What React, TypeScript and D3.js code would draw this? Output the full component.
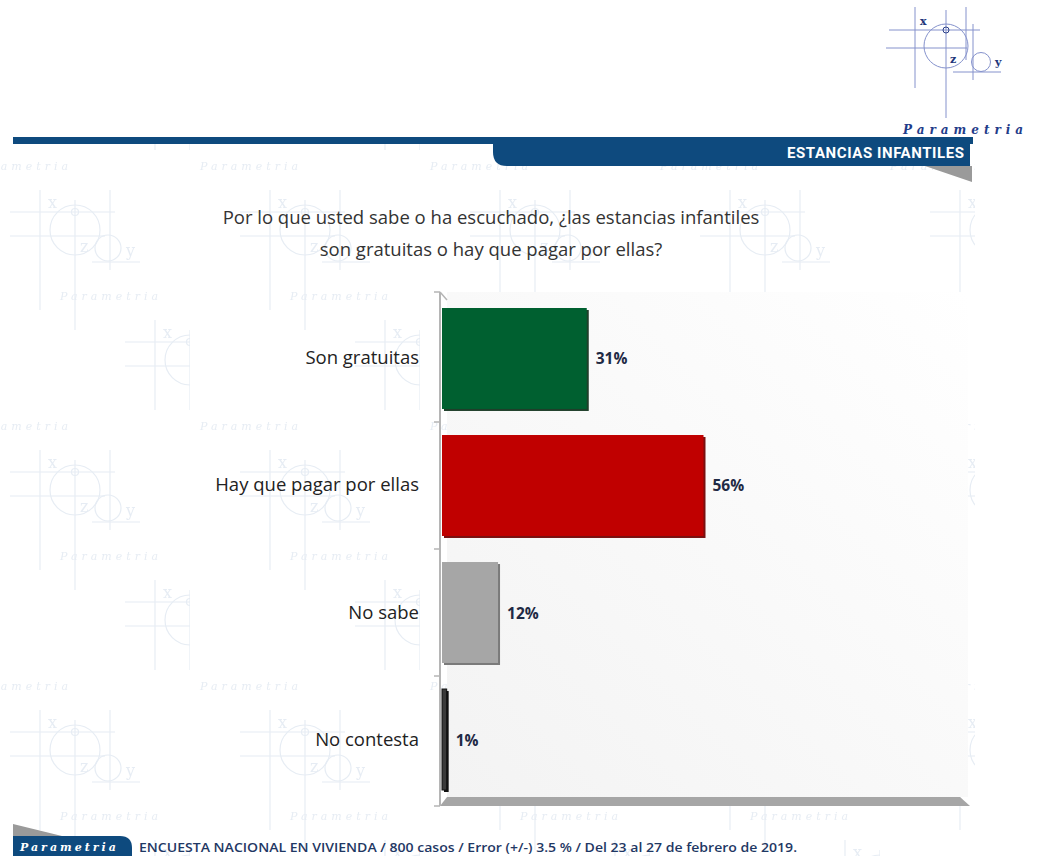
import React, { useRef, useEffect } from 'react';
import * as d3 from 'd3';

const categories = ['Son gratuitas', 'Hay que pagar por ellas', 'No sabe', 'No contesta'];
const values = [31, 56, 12, 1];
const barColors = ['#006030', '#c00000', '#a6a6a6', '#3a3a3a'];
const shadowColors = ['#1f3f2a', '#7a1010', '#7a7a7a', '#111111'];
const titleLines = [
  'Por lo que usted sabe o ha escuchado, ¿las estancias infantiles',
  'son gratuitas o hay que pagar por ellas?',
];
const headerText = 'ESTANCIAS INFANTILES';
const footerText =
  'ENCUESTA NACIONAL EN VIVIENDA / 800 casos / Error (+/-) 3.5 % / Del 23 al 27 de febrero de 2019.';

const App: React.FC = () => {
  const svgRef = useRef<SVGSVGElement | null>(null);

  useEffect(() => {
    if (!svgRef.current) return;
    const width = 1037;
    const height = 856;
    const svg = d3.select(svgRef.current).attr('width', width).attr('height', height);
    svg.selectAll('*').remove();

    const defs = svg.append('defs');

    // watermark tile
    const wm = '#d6e0ec';
    const pat = defs
      .append('pattern')
      .attr('id', 'wm')
      .attr('patternUnits', 'userSpaceOnUse')
      .attr('width', 230)
      .attr('height', 260)
      .attr('x', -40)
      .attr('y', 150);
    const motif = (g: d3.Selection<SVGGElement, unknown, null, undefined>) => {
      g.append('line').attr('x1', 0).attr('x2', 0).attr('y1', -40).attr('y2', 80);
      g.append('line').attr('x1', 35).attr('x2', 35).attr('y1', -30).attr('y2', 100);
      g.append('line').attr('x1', 70).attr('x2', 70).attr('y1', -40).attr('y2', 40);
      g.append('line').attr('x1', -30).attr('x2', 75).attr('y1', -18).attr('y2', -18);
      g.append('line').attr('x1', -30).attr('x2', 65).attr('y1', 6).attr('y2', 6);
      g.append('line').attr('x1', 52).attr('x2', 100).attr('y1', 32).attr('y2', 32);
      g.append('circle').attr('cx', 35).attr('cy', 0).attr('r', 25);
      g.append('circle').attr('cx', 35).attr('cy', -18).attr('r', 3.5);
      g.append('circle').attr('cx', 68).attr('cy', 18).attr('r', 13);
      g.append('text').attr('x', 8).attr('y', -22).text('x');
      g.append('text').attr('x', 40).attr('y', 22).text('z');
      g.append('text').attr('x', 86).attr('y', 26).text('y');
    };
    const styleMotif = (g: d3.Selection<SVGGElement, unknown, null, undefined>) => {
      g.selectAll('line').attr('stroke', wm).attr('stroke-width', 1.2);
      g.selectAll('circle').attr('fill', 'none').attr('stroke', wm).attr('stroke-width', 1.2);
      g.selectAll('text')
        .attr('fill', wm)
        .attr('font-family', 'DejaVu Serif, serif')
        .attr('font-size', 16);
    };
    const m1 = pat.append('g').attr('transform', 'translate(80,80)');
    motif(m1);
    styleMotif(m1);
    const m2 = pat.append('g').attr('transform', 'translate(195,210)');
    motif(m2);
    styleMotif(m2);
    [
      [100, 150],
      [10, 20],
    ].forEach(([tx, ty]) => {
      pat
        .append('text')
        .attr('x', tx)
        .attr('y', ty)
        .attr('fill', wm)
        .attr('font-family', 'DejaVu Serif, serif')
        .attr('font-style', 'italic')
        .attr('font-size', 11)
        .attr('letter-spacing', 4)
        .text('Parametria');
    });

    const wallGrad = defs
      .append('linearGradient')
      .attr('id', 'wall')
      .attr('x1', '0%')
      .attr('y1', '100%')
      .attr('x2', '100%')
      .attr('y2', '0%');
    wallGrad.append('stop').attr('offset', '0%').attr('stop-color', '#f3f3f3');
    wallGrad.append('stop').attr('offset', '100%').attr('stop-color', '#ffffff');

    svg.append('rect').attr('width', width).attr('height', height).attr('fill', '#ffffff');
    svg
      .append('rect')
      .attr('x', 0)
      .attr('y', 140)
      .attr('width', 975)
      .attr('height', height - 140)
      .attr('fill', 'url(#wm)')
      .attr('opacity', 0.6);

    // logo top right
    const logo = svg.append('g').attr('stroke', '#8592cc').attr('stroke-width', 1).attr('fill', 'none');
    logo.append('line').attr('x1', 915).attr('x2', 915).attr('y1', 7).attr('y2', 88);
    logo.append('line').attr('x1', 946).attr('x2', 946).attr('y1', 10).attr('y2', 118);
    logo.append('line').attr('x1', 966).attr('x2', 966).attr('y1', 7).attr('y2', 60);
    logo.append('line').attr('x1', 973).attr('x2', 973).attr('y1', 24).attr('y2', 80);
    logo.append('line').attr('x1', 889).attr('x2', 980).attr('y1', 30).attr('y2', 30);
    logo.append('line').attr('x1', 886).attr('x2', 967).attr('y1', 48).attr('y2', 48);
    logo.append('line').attr('x1', 953).attr('x2', 1001).attr('y1', 72).attr('y2', 72);
    logo.append('circle').attr('cx', 946).attr('cy', 46).attr('r', 22);
    logo.append('circle').attr('cx', 981).attr('cy', 62).attr('r', 9.5);
    logo.append('circle').attr('cx', 946).attr('cy', 30).attr('r', 3).attr('stroke', '#2a3f8a');
    const logoTxt = svg
      .append('g')
      .attr('fill', '#22357a')
      .attr('font-family', 'DejaVu Serif, serif')
      .attr('font-weight', 'bold')
      .attr('font-size', 11);
    logoTxt.append('text').attr('x', 920).attr('y', 25).text('x');
    logoTxt.append('text').attr('x', 950).attr('y', 63).text('z');
    logoTxt.append('text').attr('x', 995).attr('y', 66).text('y');
    svg
      .append('text')
      .attr('x', 903)
      .attr('y', 134)
      .attr('fill', '#1f3c8a')
      .attr('font-family', 'DejaVu Serif, serif')
      .attr('font-style', 'italic')
      .attr('font-weight', 'bold')
      .attr('font-size', 12)
      .attr('letter-spacing', 5)
      .text('Parametria');

    // header bar
    const navy = '#0e4a7e';
    svg.append('rect').attr('x', 13).attr('y', 137).attr('width', 960).attr('height', 7).attr('fill', navy);
    svg
      .append('path')
      .attr('d', 'M493,137 H970 V166 H507 Q493,166 493,152 Z')
      .attr('fill', navy);
    svg.append('path').attr('d', 'M925,166 L972,166 L972,182 Z').attr('fill', '#9a9a9a');
    svg
      .append('text')
      .attr('x', 964)
      .attr('y', 158)
      .attr('text-anchor', 'end')
      .attr('fill', '#ffffff')
      .attr('font-family', 'Liberation Sans Narrow, Roboto, sans-serif')
      .attr('font-weight', 'bold')
      .attr('font-size', 15)
      .attr('textLength', 177)
      .text(headerText);

    // title
    const title = svg
      .append('text')
      .attr('fill', '#333333')
      .attr('font-family', 'Open Sans, Noto Sans, sans-serif')
      .attr('font-size', 18.5)
      .attr('text-anchor', 'middle');
    titleLines.forEach((l, i) => {
      title
        .append('tspan')
        .attr('x', 491)
        .attr('y', 224 + i * 32)
        .text(l);
    });

    // chart
    const x = d3.scaleLinear().domain([0, 112]).range([442, 965]);
    const y = d3
      .scaleBand<string>()
      .domain(categories)
      .range([292, 806])
      .paddingInner(0.205)
      .paddingOuter(0.126);
    const [y0, y1] = y.range();

    // back wall
    svg
      .append('rect')
      .attr('x', 447)
      .attr('y', y0)
      .attr('width', 968 - 447)
      .attr('height', y1 - 9 - y0)
      .attr('fill', 'url(#wall)');

    // floor
    svg
      .append('path')
      .attr('d', `M447,${y1 - 9} L960,${y1 - 9} L970,${y1} L440,${y1} Z`)
      .attr('fill', '#a6a6a6');

    // axis
    const axis = svg.append('g').attr('stroke', '#b5b5b5').attr('fill', 'none');
    axis.append('line').attr('x1', 440).attr('x2', 440).attr('y1', y0).attr('y2', y1).attr('stroke-width', 2);
    axis.append('line').attr('x1', 440).attr('x2', 447).attr('y1', y0).attr('y2', y0 + 8).attr('stroke-width', 1.5);
    const gap = (y.step() - y.bandwidth()) / 2;
    const tickYs = [y0, ...categories.slice(1).map((c) => (y(c) as number) - gap), y1];
    tickYs.forEach((t) => {
      axis.append('line').attr('x1', 434).attr('x2', 440).attr('y1', t).attr('y2', t).attr('stroke-width', 1.5);
    });

    const bars = svg.append('g');
    categories.forEach((c, i) => {
      const by = y(c) as number;
      const bw = x(values[i]) - x(0);
      bars
        .append('rect')
        .attr('x', x(0) + 2)
        .attr('y', by + 2)
        .attr('width', bw)
        .attr('height', y.bandwidth())
        .attr('fill', shadowColors[i]);
      bars
        .append('rect')
        .attr('x', x(0))
        .attr('y', by)
        .attr('width', bw)
        .attr('height', y.bandwidth())
        .attr('fill', barColors[i])
        .attr('stroke', i === 3 ? '#111' : 'none')
        .attr('stroke-width', 1);
      bars
        .append('text')
        .attr('x', x(values[i]) + 9)
        .attr('y', by + y.bandwidth() / 2 + 6)
        .attr('fill', '#1f2a44')
        .attr('font-family', 'Open Sans, Noto Sans, sans-serif')
        .attr('font-weight', 'bold')
        .attr('font-size', 15.5)
        .text(`${values[i]}%`);
      bars
        .append('text')
        .attr('x', 419)
        .attr('y', by + y.bandwidth() / 2 + 6)
        .attr('text-anchor', 'end')
        .attr('fill', '#222222')
        .attr('font-family', 'Open Sans, Noto Sans, sans-serif')
        .attr('font-size', 18.5)
        .text(c);
    });

    // footer
    svg.append('path').attr('d', 'M13,824 L62,836 L13,836 Z').attr('fill', '#9a9a9a');
    svg
      .append('path')
      .attr('d', 'M13,836 H120 Q132,836 132,848 V856 H13 Z')
      .attr('fill', navy);
    svg
      .append('text')
      .attr('x', 20)
      .attr('y', 851)
      .attr('fill', '#ffffff')
      .attr('font-family', 'DejaVu Serif, serif')
      .attr('font-style', 'italic')
      .attr('font-weight', 'bold')
      .attr('font-size', 11)
      .attr('letter-spacing', 3)
      .text('Parametria');
    svg
      .append('text')
      .attr('x', 139)
      .attr('y', 852)
      .attr('fill', '#1f3864')
      .attr('font-family', 'Open Sans, Noto Sans, sans-serif')
      .attr('font-weight', 600)
      .attr('font-size', 13)
      .attr('textLength', 658)
      .attr('lengthAdjust', 'spacingAndGlyphs')
      .text(footerText);
  }, []);

  return (
    <svg
      ref={svgRef}
      style={{ position: 'absolute', left: 0, top: 0, display: 'block' }}
    ></svg>
  );
};

export default App;
